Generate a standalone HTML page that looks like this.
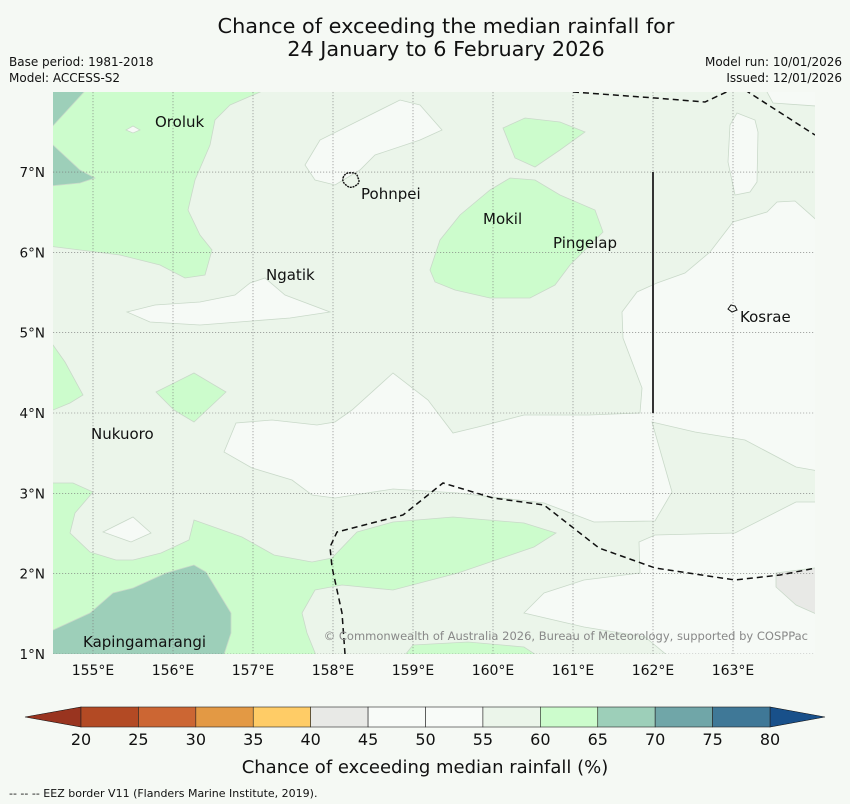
<!DOCTYPE html>
<html><head><meta charset="utf-8"><style>
body{margin:0;background:#f5f9f4;}
svg{display:block;font-family:"DejaVu Sans","Liberation Sans",sans-serif;}
</style></head><body>
<svg id="s" width="850" height="804" viewBox="0 0 850 804" xmlns="http://www.w3.org/2000/svg">
<rect width="850" height="804" fill="#f5f9f4"/>
<text x="446" y="33" font-size="20.8" text-anchor="middle" fill="#111">Chance of exceeding the median rainfall for</text>
<text x="446" y="56" font-size="20.8" text-anchor="middle" fill="#111">24 January to 6 February 2026</text>
<text x="9" y="66" font-size="12" fill="#111">Base period: 1981-2018</text>
<text x="9" y="82" font-size="12" fill="#111">Model: ACCESS-S2</text>
<text x="842" y="66" font-size="12" text-anchor="end" fill="#111">Model run: 10/01/2026</text>
<text x="842" y="82" font-size="12" text-anchor="end" fill="#111">Issued: 12/01/2026</text>
<defs><clipPath id="mc"><rect x="53" y="92" width="762" height="562"/></clipPath></defs>
<g id="map" clip-path="url(#mc)"></g>
<g id="ax"></g>
<g id="cb"></g>
<text x="425" y="773" font-size="18" text-anchor="middle" fill="#111">Chance of exceeding median rainfall (%)</text>
<text x="9" y="797" font-size="11" fill="#111">--  --  -- EEZ border V11 (Flanders Marine Institute, 2019).</text>
</svg>
<script>
const NS="http://www.w3.org/2000/svg";
// colorbar data
const levels=[20,25,30,35,40,45,50,55,60,65,70,75,80];
const levelColors=["#b34a24","#cc6633","#e39944","#ffcc66","#e8e9e6","#f8fbf8","#f8fbf8","#ebf5ea","#ccfccc","#9dcfb9","#70a6a8","#3f7897"];
const extendColors=["#99341f","#18508a"];
const lonTicks=[155,156,157,158,159,160,161,162,163];
const latTicks=[1,2,3,4,5,6,7];
// map projection (lon/lat -> px)
const X=lon=>93+(lon-155)*80;
const Y=lat=>654-(lat-1)*80.33;
function el(t,a,p){const e=document.createElementNS(NS,t);for(const k in a)e.setAttribute(k,a[k]);p.appendChild(e);return e;}
const inv=(p)=>[155+(p[0]-93)/80,1+(654-p[1])/80.33];
const regions=[
 ["green-west","#ccfccc",[[40,80],[288,80],[230,105],[215,120],[210,145],[195,180],[188,210],[200,235],[212,250],[205,275],[185,278],[160,265],[120,255],[40,245]]],
 ["teal-nw-corner","#9dcfb9",[[40,80],[95,80],[40,140]]],
 ["teal-west","#9dcfb9",[[40,145],[53,145],[80,170],[95,178],[80,183],[40,187]]],
 ["white-pohnpei","#f6faf6",[[305,165],[320,140],[360,120],[400,100],[420,105],[442,130],[420,140],[375,155],[360,170],[335,185],[315,180]]],
 ["white-ngatik","#f6faf6",[[127,312],[155,305],[200,302],[235,295],[250,283],[265,278],[285,295],[330,312],[290,318],[200,325],[150,322]]],
 ["green-mokil","#ccfccc",[[430,270],[440,240],[460,215],[490,190],[510,178],[535,180],[560,195],[595,210],[603,232],[585,250],[570,265],[555,285],[530,298],[490,298],[455,290],[435,282]]],
 ["green-north","#ccfccc",[[503,128],[525,118],[560,122],[585,132],[560,150],[535,167],[515,158]]],
 ["white-central","#f6faf6",[[224,452],[236,423],[272,420],[317,425],[335,422],[352,410],[393,373],[428,400],[453,433],[478,427],[524,415],[589,415],[640,413],[642,388],[623,338],[622,312],[637,292],[657,283],[685,273],[710,252],[733,222],[767,212],[777,202],[795,201],[830,232],[830,473],[796,467],[745,440],[695,432],[652,422],[660,450],[672,492],[655,521],[594,522],[544,503],[458,493],[393,489],[335,498],[312,495],[292,480],[252,468]]],
 ["white-southeast","#f6faf6",[[655,535],[735,533],[796,502],[830,502],[830,670],[685,670],[645,637],[584,627],[524,613],[544,593],[584,580],[640,573],[639,542]]],
 ["white-kosrae-north","#f6faf6",[[737,113],[755,120],[758,132],[757,182],[750,192],[735,195],[728,162],[730,125]]],
 ["white-ne-corner","#f6faf6",[[762,80],[767,92],[773,103],[830,107],[830,80]]],
 ["grey-southeast","#e8e9e6",[[776,573],[830,566],[830,620],[796,605],[776,587]]],
 ["green-southwest","#ccfccc",[[40,483],[73,483],[93,492],[75,513],[70,533],[90,552],[116,560],[133,560],[161,553],[189,540],[194,520],[242,537],[274,555],[312,562],[332,558],[357,532],[393,522],[453,517],[524,523],[556,533],[534,547],[458,573],[393,590],[342,585],[315,590],[302,613],[307,633],[322,670],[40,670]]],
 ["teal-kapinga","#9dcfb9",[[40,636],[90,613],[113,593],[133,588],[166,573],[194,565],[206,572],[231,613],[231,633],[219,670],[40,670]]],
 ["white-sw-diamond","#f6faf6",[[103,532],[133,517],[151,533],[131,542]]],
 ["green-4n-west","#ccfccc",[[40,340],[53,345],[65,362],[83,395],[70,403],[53,410],[40,412]]],
 ["green-4n-diamond","#ccfccc",[[156,392],[194,373],[226,392],[194,422],[174,410]]],
 ["green-south-center","#ccfccc",[[413,645],[468,642],[524,647],[559,670],[393,670]]],
 ["white-oroluk-dot","#f6faf6",[[126,130],[133,126],[140,130],[133,133]]]
].map(r=>[r[0],r[1],r[2].map(inv)]);
const map=document.getElementById('map');
const base=el('rect',{x:53,y:92,width:762,height:562,fill:'#ebf5ea'},map);


regions.forEach(r=>{
 const p=el('polygon',{points:r[2].map(q=>X(q[0]).toFixed(1)+','+Y(q[1]).toFixed(1)).join(' '),fill:r[1],stroke:'#c9d9c9','stroke-width':0.8},map);
 
 
});
lonTicks.forEach(l=>{const g=el('line',{x1:X(l),x2:X(l),y1:92,y2:654,stroke:'#777','stroke-width':0.6,'stroke-dasharray':'1.2,1.8'},map);

});
latTicks.forEach(l=>{const g=el('line',{x1:53,x2:815,y1:Y(l),y2:Y(l),stroke:'#777','stroke-width':0.6,'stroke-dasharray':'1.2,1.8'},map);

});
const eez=[
 [[573,92],[655,98],[705,102],[735,88]],
 [[745,90],[815,135]],
 [[345,654],[342,613],[332,567],[330,547],[337,532],[403,515],[443,483],[493,498],[544,505],[599,548],[655,568],[735,580],[780,575],[816,568]]
];
eez.forEach(line=>{const pl=el('polyline',{points:line.map(inv).map(q=>X(q[0])+','+Y(q[1])).join(' '),fill:'none',stroke:'#111','stroke-width':1.5,'stroke-dasharray':'6,4'},map);

});
const sl=el('line',{x1:X(162),x2:X(162),y1:Y(7),y2:Y(4),stroke:'#333','stroke-width':2},map);


const isl=el('path',{d:'M343,178 q2,-6 8,-5 q6,-1 7,5 q3,5 -3,8 q-5,3 -9,-1 q-4,-3 -3,-7z',fill:'none',stroke:'#111','stroke-width':1.4,'stroke-dasharray':'2,0.8'},map);


const k=el('path',{d:'M728,309 l3,-4 l4,1 l2,4 l-5,2z',fill:'none',stroke:'#111','stroke-width':1},map);


const labels=[["Oroluk",155,127],["Ngatik",266,280],["Pohnpei",361,199],["Mokil",483,224],["Pingelap",553,248],["Kosrae",740,322],["Nukuoro",91,439],["Kapingamarangi",83,647]];
labels.forEach(l=>{const t=el('text',{x:l[1],y:l[2],'font-size':15,fill:'#111'},map);t.textContent=l[0];

});
const cp=el('text',{x:808,y:640,'font-size':11.5,fill:'#888','text-anchor':'end'},map);
cp.textContent='© Commonwealth of Australia 2026, Bureau of Meteorology, supported by COSPPac';


const ax=document.getElementById('ax');
lonTicks.forEach(l=>{const t=el('text',{x:X(l),y:675,'font-size':14,'text-anchor':'middle',fill:'#111'},ax);t.textContent=l+'°E';

});
latTicks.forEach(l=>{const t=el('text',{x:45,y:Y(l)+5,'font-size':13.5,'text-anchor':'end',fill:'#111'},ax);t.textContent=l+'°N';

});
const cb=document.getElementById('cb');
const cx0=81,cx1=770,cy0=707,cy1=727;
const cxs=v=>cx0+(v-levels[0])/(levels[levels.length-1]-levels[0])*(cx1-cx0);
const lt=el('polygon',{points:`25,717 ${cx0},${cy0} ${cx0},${cy1}`,fill:extendColors[0],stroke:'#111','stroke-width':0.6},cb);


const rt=el('polygon',{points:`825,717 ${cx1},${cy0} ${cx1},${cy1}`,fill:extendColors[1],stroke:'#111','stroke-width':0.6},cb);


levelColors.forEach((c,i)=>{const r=el('rect',{x:cxs(levels[i]),y:cy0,width:cxs(levels[i+1])-cxs(levels[i]),height:cy1-cy0,fill:c,stroke:'#222','stroke-width':0.6},cb);

});
levels.forEach(v=>{const t=el('text',{x:cxs(v),y:745,'font-size':16,'text-anchor':'middle',fill:'#111'},cb);t.textContent=v;

});
</script>
</body></html>
